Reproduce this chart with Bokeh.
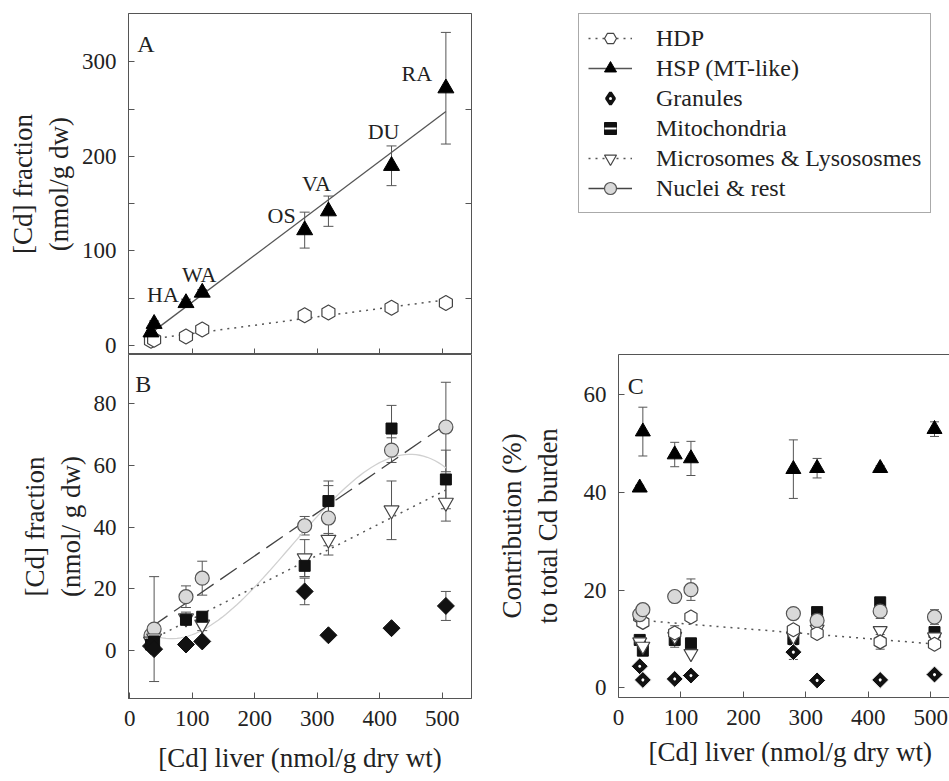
import numpy as np
from bokeh.plotting import figure
from bokeh.models import (ColumnDataSource, Whisker, TeeHead, FixedTicker, LinearAxis,
                          Range1d, Legend, LegendItem, Label, Title)
from bokeh.layouts import column, row
from bokeh.embed import file_html
from bokeh.resources import INLINE
from bokeh.core.properties import value

# ---------------- data ----------------
liver_cd = [34, 39, 90, 116, 280, 318, 419, 506]

site_names = ["HA", "WA", "OS", "VA", "DU", "RA"]
site_index = [2, 3, 4, 5, 6, 7]

# Panel A : [Cd] in heat-denatured / heat-stable protein fractions
hsp_a = [14, 23, 45, 56, 122, 142, 190, 272]
hsp_a_err = [2, 3, 4, 3, 19, 16, 21, 59]
hdp_a = [5, 6, 9.5, 17, 32, 35, 40, 45]

# Panel B : particulate fractions
nuclei_b = [5, 7, 17.5, 23.5, 40.5, 43, 65, 72.5]
nuclei_b_err = [0, 17, 3.5, 5.5, 3, 12, 4, 14.5]
mito_b = [2, 3, 10, 11, 27.5, 48.5, 72, 55.5]
mito_b_err = [0, 0, 1.5, 1.5, 3.5, 5, 7.5, 9.5]
micro_b = [3, 4, 10.5, 8.5, 30, 36, 45.5, 48]
micro_b_err = [0, 0, 2, 2, 6, 2, 9.5, 6]
gran_b = [1.5, 0.5, 2, 3, 19.2, 5, 7.3, 14.5]
gran_b_err = [0, 0, 0, 0, 4.3, 0, 0, 4.7]

# Panel C : contribution (%) to total Cd burden
hsp_c = [41, 52.5, 47.8, 47, 44.8, 45, 45, 53]
hsp_c_err = [0.5, 5, 2.5, 3.5, 6, 2, 0.5, 1.5]
nuclei_c = [15, 16, 18.7, 20.1, 15.2, 13.8, 15.7, 14.5]
nuclei_c_err = [1, 1, 1, 2.2, 1, 1, 1.5, 1.5]
hdp_c = [14.5, 13.4, 11.2, 14.5, 11.9, 11.1, 9.4, 8.9]
hdp_c_err = [0, 0, 1.5, 0, 0, 0, 1.5, 0]
mito_c = [9.8, 7.6, 9.8, 9.1, 10, 15.5, 17.5, 11.4]
mito_c_err = [0, 0, 1.5, 0, 0, 0, 0, 0]
micro_c = [9.4, 8.5, 10.5, 7, 10.5, 12, 11.7, 10.4]
gran_c = [4.4, 1.6, 1.8, 2.5, 7.3, 1.5, 1.6, 2.7]
gran_c_err = [0, 0, 0, 0, 1.5, 0, 0, 0]

legend_labels = ["HDP", "HSP (MT-like)", "Granules", "Mitochondria",
                 "Microsomes & Lysososmes", "Nuclei & rest"]

# ---------------- styling / layout ----------------
FONT = "Liberation Serif"
TXT = "#222222"
AX = "#555555"
TICK_FS = "23px"
LAB_FS = "27px"
site_dx = [-23, -3, -23, -12, -8, -29]
site_dy = [-8, -18, -15, -28, -34, -15]


def base_fig(xr, yr, fw, fh, left, right, top, bottom, outline=True):
    p = figure(x_range=Range1d(*xr), y_range=Range1d(*yr),
               frame_width=fw, frame_height=fh,
               min_border_left=left, min_border_right=right,
               min_border_top=top, min_border_bottom=bottom,
               output_backend="svg", toolbar_location=None)
    p.grid.visible = False
    p.outline_line_color = AX if outline else None
    p.outline_line_width = 1
    p.background_fill_color = "white"
    p.border_fill_color = "white"
    return p


def style_axis(ax, ticks, minor=(), show_labels=True, label=None, label_standoff=5):
    ax.ticker = FixedTicker(ticks=list(ticks), minor_ticks=list(minor))
    ax.major_tick_in = 6
    ax.major_tick_out = 0
    ax.minor_tick_in = 6
    ax.minor_tick_out = 0
    ax.axis_line_color = AX
    ax.major_tick_line_color = AX
    ax.minor_tick_line_color = AX
    if show_labels:
        ax.major_label_text_font = FONT
        ax.major_label_text_font_size = TICK_FS
        ax.major_label_text_color = TXT
        ax.major_label_standoff = 12
    else:
        ax.major_label_text_font_size = "1px"
        ax.major_label_text_color = None
        ax.major_label_standoff = 0
    if label:
        ax.axis_label = label
        ax.axis_label_text_font = FONT
        ax.axis_label_text_font_size = LAB_FS
        ax.axis_label_text_font_style = "normal"
        ax.axis_label_text_color = TXT
        ax.axis_label_standoff = label_standoff


def errbars(p, x, y, err, size=10):
    xs, lo, hi = [], [], []
    for xi, yi, ei in zip(x, y, err):
        if ei > 0:
            xs.append(xi)
            lo.append(yi - ei)
            hi.append(yi + ei)
    src = ColumnDataSource(dict(x=xs, lo=lo, hi=hi))
    w = Whisker(source=src, base="x", lower="lo", upper="hi", dimension="height",
                line_color=AX, line_width=1,
                upper_head=TeeHead(size=size, line_color=AX, line_width=1),
                lower_head=TeeHead(size=size, line_color=AX, line_width=1))
    p.add_layout(w)


def linfit(x, y):
    c = np.polyfit(x, y, 1)
    xs = np.array([min(x), max(x)], dtype=float)
    return xs, np.polyval(c, xs)


def panel_label(p, x, y, text):
    p.add_layout(Label(x=x, y=y, text=text, text_font=FONT, text_font_size="24px",
                       text_color=TXT, text_baseline="alphabetic", text_align="left"))


HEX_ANGLE = np.pi / 6
DIAMOND_ANGLE = np.pi / 4

# marker / line styles shared by panels and legend
HDP_M = dict(marker="hex", angle=HEX_ANGLE, fill_color="white", line_color="#444444", line_width=1.2)
HSP_M = dict(marker="triangle", fill_color="black", line_color="black")
GRAN_DOT_M = dict(marker="square_dot", angle=DIAMOND_ANGLE, fill_color="#111111",
                  line_color="white", line_width=1)
MITO_M = dict(marker="square", fill_color="#111111", line_color="#111111")
MICRO_M = dict(marker="inverted_triangle", fill_color="white", line_color="#444444", line_width=1.2)
NUC_M = dict(marker="circle", fill_color="#d9d9d9", line_color="#555555", line_width=1.2)
DOT_L = dict(line_color="#555555", line_width=1.5, line_dash="2 5")
SOLID_L = dict(line_color="#555555", line_width=1.3)
DASH_L = dict(line_color="#444444", line_width=1.3, line_dash="20 8")

# ---------------- Panel A ----------------
pA = base_fig((-2, 547), (-9.5, 351), 343, 341, 128, 30, 13, 0)
style_axis(pA.yaxis[0], [0, 100, 200, 300], [50, 150, 250],
           label="[Cd] fraction\n(nmol/g dw)")
style_axis(pA.xaxis[0], [100, 200, 300, 400, 500], show_labels=False)
axA_r = LinearAxis()
style_axis(axA_r, [50, 150, 250], show_labels=False)
pA.add_layout(axA_r, "right")

xs, ys = linfit(liver_cd, hsp_a)
pA.line(xs, ys, **SOLID_L)
xs, ys = linfit(liver_cd, hdp_a)
pA.line(xs, ys, **DOT_L)
errbars(pA, liver_cd, hsp_a, hsp_a_err)
pA.scatter(liver_cd, hdp_a, size=15, **HDP_M)
pA.scatter(liver_cd, hsp_a, size=16, **HSP_M)
site_src = ColumnDataSource(dict(
    x=[liver_cd[i] for i in site_index],
    y=[hsp_a[i] for i in site_index],
    name=site_names, dx=site_dx, dy=site_dy))
pA.text(x="x", y="y", text="name", x_offset="dx", y_offset="dy", source=site_src,
        text_font=value(FONT), text_font_size=value("22px"), text_color=TXT,
        text_align="center", text_baseline="middle")
panel_label(pA, 12, 319, "A")

# ---------------- Legend panel ----------------
# The legend renderers reuse the panel data but live on a unit range, so only
# their legend glyphs are visible.
pL = figure(width=448, height=354, x_range=Range1d(0, 1), y_range=Range1d(0, 1),
            x_axis_location=None, y_axis_location=None,
            min_border_left=0, min_border_right=0, min_border_top=0, min_border_bottom=0,
            output_backend="svg", toolbar_location=None)
pL.grid.visible = False
pL.outline_line_color = None

r_hdp_l = pL.line(liver_cd, hdp_a, **DOT_L)
r_hdp_m = pL.scatter(liver_cd, hdp_a, **HDP_M)
r_hsp_l = pL.line(liver_cd, hsp_a, **SOLID_L)
r_hsp_m = pL.scatter(liver_cd, hsp_a, **HSP_M)
r_gr_m = pL.scatter(liver_cd, gran_b, marker="diamond", fill_color="#111111",
                    line_color="#111111", line_width=3)
r_gr_d = pL.scatter(liver_cd, gran_b, marker="dot", line_color="white", fill_color="white")
r_mi_m = pL.scatter(liver_cd, mito_b, **MITO_M)
r_mi_d = pL.scatter(liver_cd, mito_b, marker="dash", line_color="white", line_width=2)
r_mc_l = pL.line(liver_cd, micro_b, **DOT_L)
r_mc_m = pL.scatter(liver_cd, micro_b, **MICRO_M)
r_nu_l = pL.line(liver_cd, nuclei_b, **DASH_L)
r_nu_m = pL.scatter(liver_cd, nuclei_b, **NUC_M)

legend = Legend(items=[
    LegendItem(label=legend_labels[0], renderers=[r_hdp_l, r_hdp_m]),
    LegendItem(label=legend_labels[1], renderers=[r_hsp_l, r_hsp_m]),
    LegendItem(label=legend_labels[2], renderers=[r_gr_m, r_gr_d]),
    LegendItem(label=legend_labels[3], renderers=[r_mi_m, r_mi_d]),
    LegendItem(label=legend_labels[4], renderers=[r_mc_l, r_mc_m]),
    LegendItem(label=legend_labels[5], renderers=[r_nu_l, r_nu_m]),
], location=(77, 141))
legend.glyph_width = 44
legend.glyph_height = 30
legend.label_height = 30
legend.spacing = 0
legend.padding = 9
legend.margin = 0
legend.label_standoff = 24
legend.label_text_font = FONT
legend.label_text_font_size = "24px"
legend.label_text_color = TXT
legend.border_line_color = AX
legend.border_line_width = 1
legend.background_fill_color = "white"
legend.background_fill_alpha = 1
pL.add_layout(legend)

# ---------------- Panel B ----------------
pB = base_fig((-2, 547), (-15.5, 96), 343, 344, 128, 20, 0, 0)
style_axis(pB.yaxis[0], [0, 20, 40, 60, 80], label="[Cd] fraction\n(nmol/ g dw)")
style_axis(pB.xaxis[0], [0, 100, 200, 300, 400, 500],
           label="[Cd] liver (nmol/g dry wt)", label_standoff=14)

xs_c = np.linspace(min(liver_cd), max(liver_cd), 80)
pB.line(xs_c, np.polyval(np.polyfit(liver_cd, mito_b, 3), xs_c),
        line_color="#d0d0d0", line_width=1.3)
xs, ys = linfit(liver_cd, micro_b)
pB.line(xs, ys, **DOT_L)
xs, ys = linfit(liver_cd, nuclei_b)
pB.line(xs, ys, **DASH_L)
errbars(pB, liver_cd, nuclei_b, nuclei_b_err)
errbars(pB, liver_cd, mito_b, mito_b_err)
errbars(pB, liver_cd, micro_b, micro_b_err)
errbars(pB, liver_cd, gran_b, gran_b_err)
pB.scatter(liver_cd, nuclei_b, size=14, **NUC_M)
pB.scatter(liver_cd, micro_b, size=15, **MICRO_M)
pB.scatter(liver_cd, mito_b, size=11, **MITO_M)
pB.scatter(liver_cd, gran_b, marker="square", size=12, angle=DIAMOND_ANGLE,
           fill_color="#111111", line_color="#111111")
panel_label(pB, 9, 86.5, "B")

# ---------------- Panel C ----------------
pC = base_fig((0, 530), (-2, 68.3), 331, 343, 127, 0, 0, 0, outline=False)
style_axis(pC.yaxis[0], [0, 20, 40, 60], label="Contribution (%)\nto total Cd burden",
           label_standoff=18)
style_axis(pC.xaxis[0], [0, 100, 200, 300, 400, 500])
axC_t = LinearAxis()
style_axis(axC_t, [], show_labels=False)
pC.add_layout(axC_t, "above")
pC.add_layout(Title(text="[Cd] liver (nmol/g dry wt)", align="left", offset=30,
                    text_font=FONT, text_font_size=LAB_FS, text_font_style="normal",
                    text_color=TXT, standoff=14), "below")

xs, ys = linfit(liver_cd, hdp_c)
pC.line(xs, ys, **DOT_L)
errbars(pC, liver_cd, hsp_c, hsp_c_err, size=9)
errbars(pC, liver_cd, nuclei_c, nuclei_c_err, size=9)
errbars(pC, liver_cd, hdp_c, hdp_c_err, size=9)
errbars(pC, liver_cd, mito_c, mito_c_err, size=9)
errbars(pC, liver_cd, gran_c, gran_c_err, size=9)
pC.scatter(liver_cd, mito_c, size=11, **MITO_M)
pC.scatter(liver_cd, micro_c, size=14, **MICRO_M)
pC.scatter(liver_cd, gran_c, size=12, **GRAN_DOT_M)
pC.scatter(liver_cd, hdp_c, size=14, **HDP_M)
pC.scatter(liver_cd, nuclei_c, size=14, **NUC_M)
pC.scatter(liver_cd, hsp_c, size=15, **HSP_M)
panel_label(pC, 14.7, 61.9, "C")

layout = column(row(pA, pL), row(pB, pC))
open("out.html", "w").write(file_html(layout, INLINE))
